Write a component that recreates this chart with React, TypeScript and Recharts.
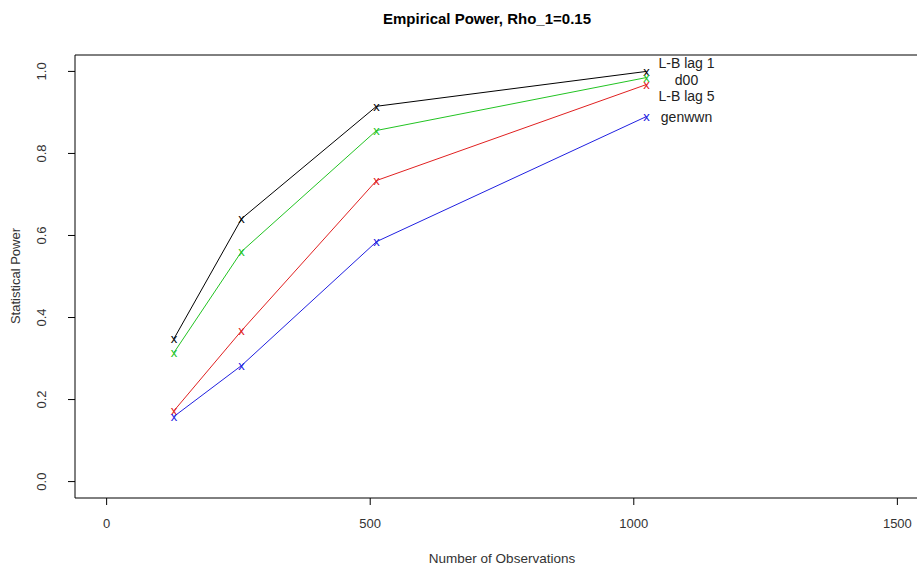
import React from "react";
import { LineChart, Line, XAxis, YAxis, ReferenceArea, ReferenceDot } from "recharts";

// sample sizes
const observations = [128, 256, 512, 1024];

// empirical power per test
const lbLag1 = [0.349, 0.641, 0.915, 1.0];
const d00 = [0.315, 0.561, 0.856, 0.985];
const lbLag5 = [0.173, 0.368, 0.734, 0.968];
const genwwn = [0.159, 0.283, 0.585, 0.89];

const xTicks = [0, 500, 1000, 1500];
const yTicks = [0, 0.2, 0.4, 0.6, 0.8, 1.0];

// text labels placed at the right, like text() in R
const labelNames = ["L-B lag 1", "d00", "L-B lag 5", "genwwn"];
const labelY = [1.02, 0.98, 0.94, 0.89];
const labelX = 1100;

const FONT = "'Liberation Sans', Arial, sans-serif";

const series = [
  { key: "lb1", color: "#000000" },
  { key: "d00", color: "#22c322" },
  { key: "lb5", color: "#e02020" },
  { key: "gen", color: "#2020e0" },
];

const data = observations.map((n, i) => ({
  n,
  lb1: lbLag1[i],
  d00: d00[i],
  lb5: lbLag5[i],
  gen: genwwn[i],
}));

const crossDot = (color: string) => (props: any) => {
  const { cx, cy, index } = props;
  if (cx == null || cy == null) return <g key={index} />;
  return (
    <text
      key={index}
      x={cx}
      y={cy + 4.5}
      textAnchor="middle"
      fontSize={13}
      fontFamily={FONT}
      fill={color}
    >
      x
    </text>
  );
};

const XTick = (props: any) => {
  const { x, payload } = props;
  return (
    <text x={x} y={528} textAnchor="middle" fontSize={13} fontFamily={FONT} fill="#333">
      {payload.value}
    </text>
  );
};

const YTick = (props: any) => {
  const { y, payload } = props;
  return (
    <text
      x={46}
      y={y}
      textAnchor="middle"
      fontSize={13}
      fontFamily={FONT}
      fill="#333"
      transform={`rotate(-90, 46, ${y})`}
    >
      {Number(payload.value).toFixed(1)}
    </text>
  );
};

export default function App() {
  return (
    <div style={{ position: "absolute", left: 0, top: 0, width: 917, height: 570, overflow: "hidden", background: "#fff" }}>
      <div
        style={{
          position: "absolute",
          left: 287,
          width: 400,
          top: 10,
          textAlign: "center",
          fontFamily: FONT,
          fontWeight: "bold",
          fontSize: 15,
          color: "#000",
        }}
      >
        Empirical Power, Rho_1=0.15
      </div>
      <LineChart
        width={929}
        height={570}
        data={data}
        margin={{ top: 55, right: 0, bottom: 0, left: 0 }}
      >
        <XAxis
          dataKey="n"
          type="number"
          domain={[-60, 1560]}
          ticks={xTicks}
          allowDataOverflow
          height={72}
          axisLine={false}
          tickSize={7}
          tickLine={{ stroke: "#000" }}
          tick={<XTick />}
          label={{
            content: () => (
              <text x={502} y={563} textAnchor="middle" fontSize={13.5} fontFamily={FONT} fill="#333">
                Number of Observations
              </text>
            ),
          }}
        />
        <YAxis
          type="number"
          domain={[-0.04, 1.04]}
          ticks={yTicks}
          allowDataOverflow
          width={75}
          axisLine={false}
          tickSize={7}
          tickLine={{ stroke: "#000" }}
          tick={<YTick />}
          label={{
            content: () => (
              <text
                x={20}
                y={276}
                textAnchor="middle"
                fontSize={13}
                fontFamily={FONT}
                fill="#333"
                transform="rotate(-90, 20, 276)"
              >
                Statistical Power
              </text>
            ),
          }}
        />
        <ReferenceArea
          x1={-60}
          x2={1560}
          y1={-0.04}
          y2={1.04}
          fill="none"
          stroke="#000"
          strokeWidth={1}
          ifOverflow="visible"
        />
        {series.map((s) => (
          <Line
            key={s.key}
            dataKey={s.key}
            stroke={s.color}
            strokeWidth={1}
            dot={crossDot(s.color)}
            activeDot={false}
            isAnimationActive={false}
          />
        ))}
        {labelNames.map((name, i) => (
          <ReferenceDot
            key={name}
            x={labelX}
            y={labelY[i]}
            r={0}
            fill="none"
            stroke="none"
            label={{
              content: (p: any) => {
                const vb = p.viewBox || {};
                const cx = (vb.x ?? 0) + (vb.width ?? 0) / 2;
                const cy = (vb.y ?? 0) + (vb.height ?? 0) / 2;
                return (
                  <text x={cx} y={cy + 5} textAnchor="middle" fontSize={14} fontFamily={FONT} fill="#222">
                    {name}
                  </text>
                );
              },
            }}
          />
        ))}
      </LineChart>
    </div>
  );
}
